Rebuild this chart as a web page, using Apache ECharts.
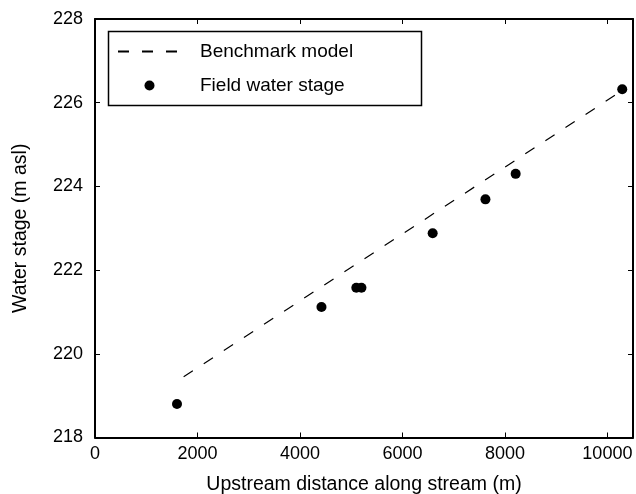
<!DOCTYPE html>
<html>
<head>
<meta charset="utf-8">
<script src="https://cdn.jsdelivr.net/npm/echarts@6/dist/echarts.min.js"></script>
<style>
  html, body { margin: 0; padding: 0; background: #fff; }
  #chart { width: 636px; height: 494px; }
</style>
</head>
<body>
<div id="chart"></div>
<script>
// benchmark model line (distance m, stage m asl)
const modelDist = [1730, 10300]
const modelStage = [219.45, 226.3]

// field observations
const fieldDist = [1600, 4420, 5100, 5200, 6590, 7620, 8210, 10290]
const fieldStage = [218.8, 221.12, 221.58, 221.58, 222.88, 223.69, 224.3, 226.32]

const xTicks = { min: 0, max: 10500, interval: 2000 }
const yTicks = { min: 218, max: 228, interval: 2 }

const font = "'Liberation Sans', Arial, sans-serif"

const chart = echarts.init(document.getElementById('chart'))

const baseAxis = {
  axisLine: { onZero: false, lineStyle: { color: '#000', width: 2 } },
  axisTick: { inside: true, length: 5, lineStyle: { color: '#000', width: 1 } },
  splitLine: { show: false }
}

chart.setOption({
  animation: false,
  textStyle: { fontFamily: font, color: '#000' },
  grid: { left: 95, right: 3, top: 19, bottom: 56.5, outerBoundsMode: 'none', containLabel: false },
  xAxis: [
    {
      ...baseAxis,
      type: 'value',
      ...xTicks,
      position: 'bottom',
      name: 'Upstream distance along stream (m)',
      nameLocation: 'middle',
      nameGap: 37,
      nameTextStyle: { fontSize: 19.5, color: '#000', fontFamily: font },
      axisLabel: {
        fontSize: 18, color: '#000', margin: 8, showMaxLabel: false, fontFamily: font,
        formatter: v => String(v)
      }
    },
    {
      ...baseAxis,
      type: 'value',
      ...xTicks,
      position: 'top',
      axisLabel: { show: false }
    }
  ],
  yAxis: [
    {
      ...baseAxis,
      type: 'value',
      ...yTicks,
      position: 'left',
      name: 'Water stage (m asl)',
      nameLocation: 'middle',
      nameGap: 64,
      nameTextStyle: { fontSize: 19.5, color: '#000', fontFamily: font },
      axisLabel: { fontSize: 18, color: '#000', margin: 12, fontFamily: font, formatter: v => String(v) }
    },
    {
      ...baseAxis,
      type: 'value',
      ...yTicks,
      position: 'right',
      axisLabel: { show: false }
    }
  ],
  legend: {
    orient: 'vertical',
    left: 106,
    top: 29,
    padding: [13, 0, 0, 11],
    itemWidth: 63,
    itemHeight: 10,
    itemGap: 15,
    textStyle: { fontSize: 19, color: '#000', fontFamily: font, padding: [0, 0, 0, 14] },
    data: [
      { name: 'Benchmark model', itemStyle: { opacity: 0 } },
      { name: 'Field water stage' }
    ]
  },
  graphic: [
    {
      type: 'rect',
      left: 106,
      top: 29,
      shape: { width: 313, height: 74 },
      style: { fill: 'none', stroke: '#000', lineWidth: 1.5 },
      silent: true
    }
  ],
  series: [
    {
      name: 'Benchmark model',
      type: 'line',
      data: modelDist.map((d, i) => [d, modelStage[i]]),
      symbol: 'none',
      itemStyle: { color: '#000' },
      lineStyle: { color: '#000', width: 1.2, type: [11, 13] }
    },
    {
      name: 'Field water stage',
      type: 'scatter',
      data: fieldDist.map((d, i) => [d, fieldStage[i]]),
      symbol: 'circle',
      symbolSize: 10,
      itemStyle: { color: '#000', opacity: 1 }
    }
  ]
})
</script>
</body>
</html>
